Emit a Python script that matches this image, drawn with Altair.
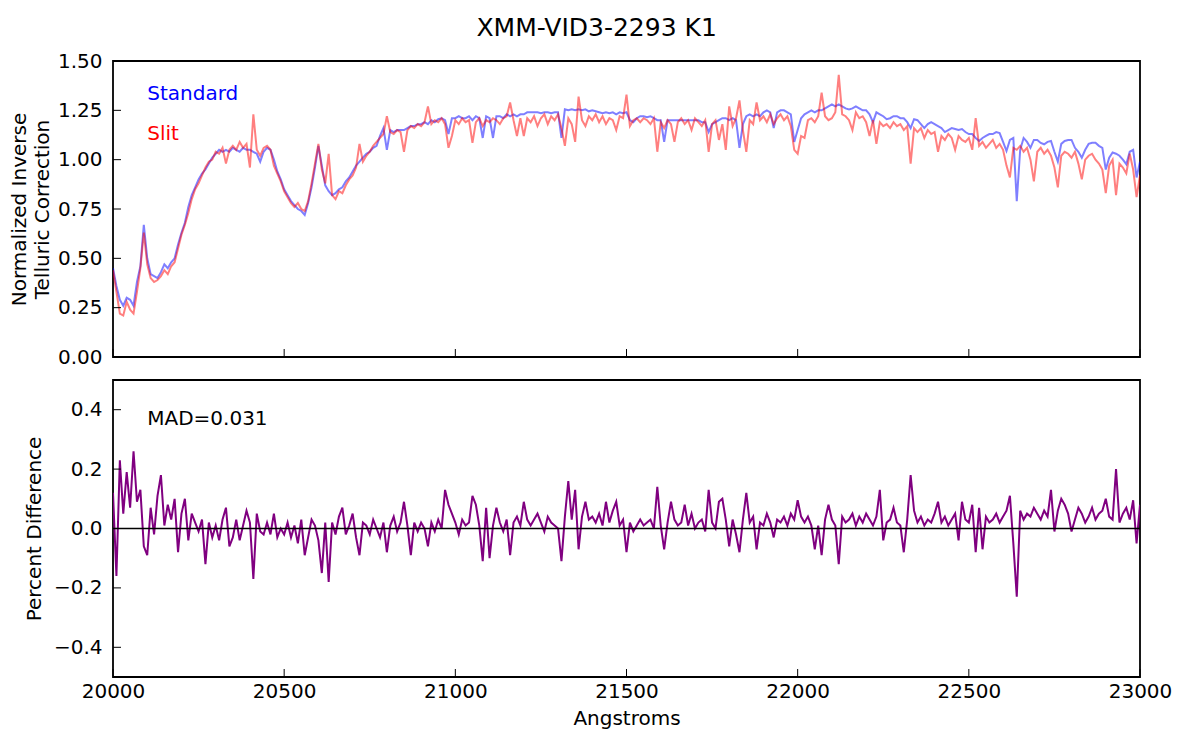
import altair as alt
import pandas as pd

# wavelength sampling grid (Angstroms)
WAVE = list(range(20000, 23001, 10))

STANDARD = [
    0.45, 0.36, 0.29, 0.26, 0.30, 0.29, 0.26, 0.38, 0.46, 0.67,
    0.50, 0.42, 0.41, 0.40, 0.43, 0.47, 0.45, 0.48, 0.50, 0.57,
    0.63, 0.68, 0.76, 0.82, 0.86, 0.90, 0.93, 0.95, 0.98, 1.01,
    1.03, 1.05, 1.04, 1.05, 1.04, 1.06, 1.05, 1.04, 1.06, 1.05,
    1.05, 1.04, 1.03, 0.99, 1.04, 1.06, 1.05, 1.00, 0.94, 0.90,
    0.85, 0.82, 0.79, 0.77, 0.75, 0.74, 0.72, 0.78, 0.86, 0.96,
    1.07, 0.97, 0.87, 0.84, 0.82, 0.83, 0.85, 0.86, 0.89, 0.91,
    0.94, 0.97, 0.99, 1.01, 1.03, 1.04, 1.06, 1.07, 1.12, 1.16,
    1.05, 1.15, 1.14, 1.15, 1.15, 1.15, 1.16, 1.17, 1.17, 1.18,
    1.18, 1.19, 1.18, 1.20, 1.19, 1.205, 1.21, 1.20, 1.13, 1.21,
    1.21, 1.22, 1.21, 1.21, 1.22, 1.20, 1.22, 1.21, 1.11, 1.22,
    1.21, 1.11, 1.22, 1.22, 1.21, 1.23, 1.22, 1.23, 1.22, 1.23,
    1.23, 1.24, 1.24, 1.24, 1.24, 1.235, 1.24, 1.24, 1.235, 1.24,
    1.24, 1.11, 1.255, 1.25, 1.255, 1.25, 1.255, 1.25, 1.255, 1.245,
    1.25, 1.245, 1.24, 1.235, 1.24, 1.235, 1.24, 1.23, 1.24, 1.235,
    1.24, 1.20, 1.19, 1.21, 1.22, 1.22, 1.215, 1.22, 1.21, 1.20,
    1.20, 1.09, 1.20, 1.20, 1.20, 1.20, 1.20, 1.20, 1.20, 1.20,
    1.20, 1.20, 1.19, 1.19, 1.14, 1.18, 1.19, 1.20, 1.21, 1.21,
    1.20, 1.21, 1.20, 1.06, 1.18, 1.22, 1.23, 1.22, 1.23, 1.22,
    1.24, 1.25, 1.24, 1.16, 1.24, 1.25, 1.25, 1.24, 1.23, 1.09,
    1.15, 1.21, 1.23, 1.24, 1.25, 1.24, 1.25, 1.25, 1.26, 1.27,
    1.28, 1.27, 1.28, 1.27, 1.26, 1.255, 1.26, 1.27, 1.26, 1.25,
    1.25, 1.23, 1.19, 1.24, 1.23, 1.22, 1.205, 1.21, 1.22, 1.22,
    1.21, 1.21, 1.19, 1.16, 1.205, 1.20, 1.18, 1.16, 1.18, 1.19,
    1.18, 1.17, 1.16, 1.14, 1.15, 1.16, 1.155, 1.15, 1.155, 1.14,
    1.13, 1.13, 1.11, 1.095, 1.11, 1.12, 1.13, 1.13, 1.14, 1.135,
    1.09, 1.044, 1.10, 1.11, 0.79, 1.05, 1.11, 1.09, 1.06, 1.10,
    1.10, 1.085, 1.078, 1.09, 1.095, 1.04, 0.99, 1.08, 1.095, 1.10,
    1.10, 1.06, 1.04, 1.01, 1.05, 1.08, 1.086, 1.086, 1.07, 1.06,
    0.95, 1.01, 1.036, 1.03, 1.02, 1.00, 0.977, 1.04, 1.05, 0.91,
    0.99,
]

SLIT = [
    0.44, 0.33, 0.22, 0.21, 0.28, 0.24, 0.22, 0.33, 0.45, 0.63,
    0.47, 0.40, 0.38, 0.39, 0.41, 0.44, 0.42, 0.46, 0.48, 0.55,
    0.62, 0.67, 0.73, 0.80, 0.85, 0.88, 0.92, 0.96, 0.99, 1.00,
    1.04, 1.03, 1.06, 0.98, 1.05, 1.07, 1.05, 1.09, 1.06, 1.08,
    0.96, 1.23, 1.05, 1.02, 1.06, 1.07, 1.05, 0.97, 0.93, 0.89,
    0.84, 0.81, 0.78, 0.76, 0.78, 0.75, 0.74, 0.79, 0.88, 0.98,
    1.08, 0.95, 0.88, 1.03, 0.82, 0.80, 0.84, 0.83, 0.87, 0.90,
    0.92, 0.96, 1.08, 0.99, 1.02, 1.04, 1.07, 1.09, 1.11, 1.13,
    1.22, 1.14, 1.13, 1.15, 1.14, 1.04, 1.15, 1.17, 1.16, 1.18,
    1.17, 1.19, 1.27, 1.18, 1.20, 1.19, 1.21, 1.18, 1.06, 1.12,
    1.20, 1.18, 1.21, 1.19, 1.20, 1.085, 1.19, 1.21, 1.17, 1.20,
    1.19, 1.21, 1.20, 1.18, 1.21, 1.22, 1.29, 1.20, 1.12, 1.21,
    1.12, 1.21, 1.19, 1.22, 1.17, 1.21, 1.23, 1.18, 1.22, 1.20,
    1.23, 1.16, 1.07, 1.21, 1.18, 1.09, 1.32, 1.20, 1.17, 1.22,
    1.20, 1.23, 1.19, 1.22, 1.18, 1.21, 1.20, 1.15, 1.22, 1.21,
    1.33, 1.17, 1.20, 1.21, 1.19, 1.21, 1.20, 1.18, 1.21, 1.04,
    1.19, 1.16, 1.20, 1.18, 1.09, 1.19, 1.21, 1.18, 1.20, 1.15,
    1.21, 1.19, 1.17, 1.20, 1.04, 1.18, 1.20, 1.10, 1.18, 1.05,
    1.27, 1.17, 1.21, 1.30, 1.15, 1.04, 1.20, 1.18, 1.29, 1.20,
    1.22, 1.19, 1.23, 1.18, 1.21, 1.23, 1.20, 1.22, 1.17, 1.05,
    1.03, 1.12, 1.11, 1.20, 1.21, 1.19, 1.22, 1.34, 1.22, 1.20,
    1.21, 1.24, 1.43, 1.23, 1.22, 1.20, 1.15, 1.24, 1.21, 1.22,
    1.19, 1.12, 1.20, 1.08, 1.19, 1.17, 1.18, 1.16, 1.19, 1.17,
    1.18, 1.15, 1.17, 0.98, 1.16, 1.14, 1.16, 1.11, 1.15, 1.13,
    1.14, 1.04, 1.12, 1.10, 1.13, 1.11, 1.05, 1.12, 1.10, 1.09,
    1.11, 1.05, 1.21, 1.07, 1.09, 1.06, 1.08, 1.10, 1.06, 1.08,
    1.05, 0.97, 0.91, 1.06, 1.05, 1.07, 1.04, 1.06, 1.00, 0.89,
    1.04, 1.06, 1.03, 1.05, 1.02, 0.96, 0.86, 1.02, 1.04, 1.03,
    1.01, 1.04, 0.98, 0.90, 1.00, 1.02, 1.03, 1.00, 0.98, 0.95,
    0.83, 0.97, 1.00, 0.82, 0.98, 0.96, 0.93, 1.03, 0.95, 0.81,
    0.92,
]

DIFF = [
    0.12, -0.16, 0.23, 0.05, 0.19, 0.07, 0.26, 0.09, 0.13, -0.06,
    -0.09, 0.07, -0.02, 0.11, 0.18, 0.01, 0.08, 0.03, 0.10, -0.08,
    0.05, 0.10, -0.04, 0.05, 0.02, -0.01, 0.03, -0.12, 0.02, -0.03,
    0.01, -0.04, 0.03, 0.07, -0.06, -0.03, 0.03, -0.04, 0.01, 0.06,
    0.02, -0.17, 0.05, -0.01, -0.02, 0.02, -0.02, 0.05, -0.03, 0.00,
    -0.02, 0.02, -0.03, 0.01, -0.05, 0.03, -0.09, -0.03, 0.03, 0.01,
    -0.04, -0.15, 0.02, -0.18, 0.02, -0.02, 0.04, 0.07, -0.02, 0.01,
    0.05, -0.03, -0.09, 0.02, 0.01, -0.02, 0.03, 0.00, -0.03, 0.02,
    -0.08, 0.01, 0.04, -0.01, 0.02, 0.09, 0.01, -0.09, 0.02, -0.01,
    0.02, 0.00, -0.06, 0.02, -0.01, 0.03, 0.00, 0.13, 0.08, 0.05,
    0.02, -0.02, 0.03, 0.01, 0.02, 0.11, 0.08, 0.01, -0.11, 0.07,
    -0.10, 0.01, 0.07, 0.02, -0.01, 0.03, -0.09, 0.02, 0.04, 0.01,
    0.09, 0.03, 0.01, 0.03, 0.05, 0.02, -0.01, 0.04, 0.02, 0.01,
    0.00, -0.11, 0.04, 0.16, 0.03, 0.13, -0.07, 0.04, 0.09, 0.03,
    0.04, 0.02, 0.05, 0.01, 0.09, 0.02, 0.06, 0.09, 0.01, 0.03,
    -0.08, 0.02, -0.01, 0.01, 0.03, 0.01, 0.02, 0.03, 0.00, 0.14,
    0.01, -0.07, 0.02, 0.09, 0.03, 0.01, 0.02, 0.08, 0.01, 0.05,
    0.00, 0.02, 0.03, -0.01, 0.13, 0.02, 0.00, 0.09, 0.10, 0.03,
    -0.06, 0.03, -0.02, -0.08, 0.03, 0.12, 0.02, 0.04, -0.07, 0.02,
    0.01, 0.05, 0.02, -0.03, 0.03, 0.02, 0.04, 0.01, 0.05, 0.03,
    0.095, 0.04, 0.02, 0.04, 0.01, -0.07, 0.01, -0.09, 0.03, 0.08,
    0.03, 0.01, -0.12, 0.04, 0.02, 0.03, 0.05, 0.01, 0.04, 0.02,
    0.05, 0.03, 0.01, 0.04, 0.13, -0.04, 0.02, 0.03, 0.07, 0.02,
    0.01, -0.08, 0.03, 0.18, 0.06, 0.02, 0.04, 0.01, 0.03, 0.02,
    0.05, 0.09, 0.02, 0.04, 0.01, 0.03, 0.05, -0.04, 0.09, 0.03,
    0.02, 0.08, -0.08, 0.07, -0.07, 0.04, 0.02, 0.03, 0.05, 0.02,
    0.04, 0.06, 0.11, -0.05, -0.23, 0.06, 0.03, 0.05, 0.04, 0.07,
    0.05, 0.03, 0.06, 0.04, 0.13, -0.01, 0.06, 0.10, 0.08, 0.05,
    -0.01, 0.03, 0.07, 0.05, 0.02, 0.04, 0.07, 0.03, 0.05, 0.06,
    0.10, 0.04, 0.03, 0.20, 0.02, 0.05, 0.07, 0.03, 0.095, -0.05,
    0.08,
]

XTICKS = [20000, 20500, 21000, 21500, 22000, 22500, 23000]
YTICKS_TOP = [0.0, 0.25, 0.5, 0.75, 1.0, 1.25, 1.5]
YTICKS_BOT = [-0.4, -0.2, 0.0, 0.2, 0.4]

LEGEND_TEXT = ["Standard", "Slit"]
LEGEND_Y = [1.30, 1.10]
LEGEND_COLOR = ["#0000ff", "#ff0000"]
MAD_TEXT = "MAD=0.031"

FONT = "DejaVu Sans"
W, H_TOP, H_BOT = 1027, 296, 297
TICK_LEN = 8

spec = pd.DataFrame({"wave": WAVE, "standard": STANDARD, "slit": SLIT, "diff": DIFF})

xscale = alt.Scale(domain=[20000, 23000], nice=False, zero=False)
ytop = alt.Scale(domain=[0, 1.5], nice=False, zero=False)
ybot = alt.Scale(domain=[-0.5, 0.5], nice=False, zero=False)

AX = dict(ticks=False, domain=False, grid=False, labelFontSize=20, titleFontSize=20,
          titleFontWeight="normal", labelFont=FONT, titleFont=FONT,
          labelColor="black", titleColor="black")

top_y_axis = alt.Axis(values=YTICKS_TOP, format=".2f", title=["Normalized Inverse", "Telluric Correction"],
                      labelPadding=11, titlePadding=5, titleLineHeight=23, **AX)
bot_x_axis = alt.Axis(values=XTICKS, format="d", title="Angstroms", labelPadding=4, titlePadding=7,
                      labelFlush=False, **AX)
bot_y_axis = alt.Axis(values=YTICKS_BOT, format=".1f", title="Percent Difference",
                      labelPadding=11, titlePadding=9, **AX)

blue = alt.Chart(spec).mark_line(color="#0000ff", opacity=0.5, strokeWidth=2, clip=True).encode(
    x=alt.X("wave:Q", scale=xscale, axis=None),
    y=alt.Y("standard:Q", scale=ytop, axis=top_y_axis),
)
red = alt.Chart(spec).mark_line(color="#ff0000", opacity=0.5, strokeWidth=2, clip=True).encode(
    x=alt.X("wave:Q", scale=xscale, axis=None),
    y=alt.Y("slit:Q", scale=ytop, axis=top_y_axis),
)
legend_df = pd.DataFrame({"x": [20100, 20100], "y": LEGEND_Y, "t": LEGEND_TEXT, "c": LEGEND_COLOR})
legend = alt.Chart(legend_df).mark_text(align="left", baseline="alphabetic", fontSize=20, font=FONT).encode(
    x=alt.X("x:Q", scale=xscale, axis=None),
    y=alt.Y("y:Q", scale=ytop, axis=top_y_axis),
    text="t:N",
    color=alt.Color("c:N", scale=None),
)
xt_top = alt.Chart(pd.DataFrame({"t": XTICKS})).mark_rule(color="black", strokeWidth=1).encode(
    x=alt.X("t:Q", scale=xscale, axis=None),
    y=alt.value(H_TOP), y2=alt.value(H_TOP - TICK_LEN),
)
yt_top = alt.Chart(pd.DataFrame({"v": YTICKS_TOP})).mark_rule(color="black", strokeWidth=1).encode(
    y=alt.Y("v:Q", scale=ytop, axis=top_y_axis),
    x=alt.value(0), x2=alt.value(TICK_LEN),
)
top = alt.layer(blue, red, legend, xt_top, yt_top).properties(width=W, height=H_TOP)

diff_line = alt.Chart(spec).mark_line(color="#800080", strokeWidth=2, clip=True).encode(
    x=alt.X("wave:Q", scale=xscale, axis=bot_x_axis),
    y=alt.Y("diff:Q", scale=ybot, axis=bot_y_axis),
)
zero = alt.Chart(pd.DataFrame({"z": [0.0]})).mark_rule(color="black", strokeWidth=1.5).encode(
    y=alt.Y("z:Q", scale=ybot, axis=bot_y_axis),
)
mad = alt.Chart(pd.DataFrame({"x": [20100], "y": [0.35], "t": [MAD_TEXT]})).mark_text(
    align="left", baseline="alphabetic", fontSize=20, font=FONT, color="black").encode(
    x=alt.X("x:Q", scale=xscale, axis=bot_x_axis),
    y=alt.Y("y:Q", scale=ybot, axis=bot_y_axis),
    text="t:N",
)
xt_bot = alt.Chart(pd.DataFrame({"t": XTICKS})).mark_rule(color="black", strokeWidth=1).encode(
    x=alt.X("t:Q", scale=xscale, axis=bot_x_axis),
    y=alt.value(H_BOT), y2=alt.value(H_BOT - TICK_LEN),
)
yt_bot = alt.Chart(pd.DataFrame({"v": YTICKS_BOT})).mark_rule(color="black", strokeWidth=1).encode(
    y=alt.Y("v:Q", scale=ybot, axis=bot_y_axis),
    x=alt.value(0), x2=alt.value(TICK_LEN),
)
bottom = alt.layer(diff_line, zero, mad, xt_bot, yt_bot).properties(width=W, height=H_BOT)

chart = alt.vconcat(top, bottom, spacing=11).properties(
    title=alt.TitleParams("XMM-VID3-2293 K1", fontSize=25, font=FONT, fontWeight="normal",
                          anchor="middle", frame="bounds", offset=9, dx=6, color="black"),
    padding={"left": 0, "top": 8, "right": 8, "bottom": 4},
    background="white",
).configure_view(stroke="black", strokeWidth=1.8)

chart.save("out.html", embed_options={"renderer": "svg", "actions": False})
